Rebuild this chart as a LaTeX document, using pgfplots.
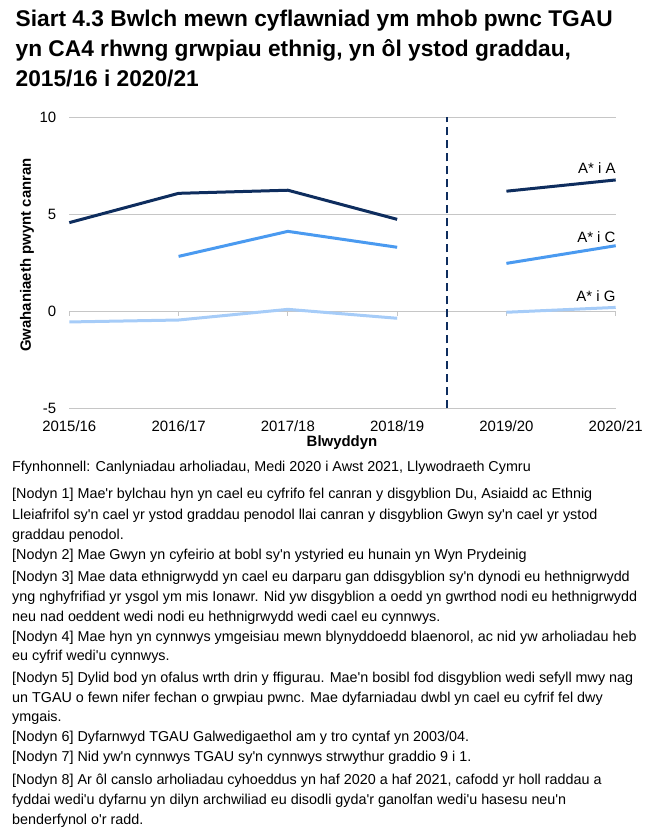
\documentclass[border=0pt]{standalone}
\usepackage{fontspec}
\setmainfont{Liberation Sans}[Ligatures=TeXOff]
\usepackage{pgfplots}
\pgfplotsset{compat=1.18}

\definecolor{navy}{HTML}{0E2D5E}
\definecolor{midblue}{HTML}{4A9AF0}
\definecolor{lightblue}{HTML}{A6CCF8}
\definecolor{gridgray}{HTML}{C6C6C6}

\newcommand\note[2]{\node[anchor=base west,inner sep=0,font=\fontsize{14.4}{16}\selectfont] at (12bp,839bp-#1bp) {#2};}

\begin{document}
\begin{tikzpicture}[x=1bp,y=1bp]
\path[use as bounding box] (0,0) rectangle (668,839);

% titl
\begin{scope}[every node/.style={anchor=base west,inner sep=0,font=\bfseries\fontsize{22.8}{26}\selectfont}]
\node at (15.5,839-26.5) {Siart 4.3 Bwlch mewn cyflawniad ym mhob pwnc TGAU};
\node at (15.5,839-57) {yn CA4 rhwng grwpiau ethnig, yn ôl ystod graddau,};
\node at (15.5,839-87) {2015/16 i 2020/21};
\end{scope}

\begin{axis}[
  at={(69.3bp,430.7bp)}, anchor=south west,
  scale only axis, width=546.4bp, height=291bp,
  xmin=0, xmax=5, ymin=-5, ymax=10,
  axis line style={draw=none},
  major tick length=0,
  xtick={0,...,5},
  xticklabels={2015/16,2016/17,2017/18,2018/19,2019/20,2020/21},
  ytick={-5,0,5,10},
  yticklabels={-5,0,5,10},
  ymajorgrids,
  grid style={gridgray, line width=1bp},
  tick label style={font=\fontsize{15}{17}\selectfont},
  yticklabel style={xshift=-9.5bp},
  xticklabel style={yshift=-8.5bp},
  unbounded coords=jump,
  clip=false,
]
% tick marks on the zero line
\pgfplotsinvokeforeach{0,...,5}{
  \draw[gridgray, line width=1bp] (axis cs:#1,0) -- ([yshift=-5bp]axis cs:#1,0);
}

% A* i A
\addplot[navy, line width=3bp] coordinates {
  (0,4.57) (1,6.08) (2,6.24) (3,4.74) (3.5,nan) (4,6.19) (5,6.77)};
% A* i C
\addplot[midblue, line width=3bp] coordinates {
  (1,2.83) (2,4.12) (3,3.30) (3.5,nan) (4,2.47) (5,3.38)};
% A* i G
\addplot[lightblue, line width=3bp] coordinates {
  (0,-0.55) (1,-0.45) (2,0.10) (3,-0.36) (3.5,nan) (4,-0.05) (5,0.20)};

% dashed break 2018/19 -> 2019/20
\addplot[navy, line width=2bp, dash pattern=on 8bp off 5bp] coordinates {(3.46,-5) (3.46,10)};

\begin{scope}[every node/.style={anchor=base east,inner sep=0,font=\fontsize{15}{17}\selectfont}]
\node at (axis cs:5,7.11) {A* i A};
\node at (axis cs:5,3.54) {A* i C};
\node at (axis cs:5,0.50) {A* i G};
\end{scope}
\end{axis}

\node[rotate=90, inner sep=0, font=\bfseries\fontsize{15}{17}\selectfont] at (27,839-255) {Gwahaniaeth pwynt canran};
\node[anchor=base, inner sep=0, font=\bfseries\fontsize{15}{17}\selectfont] at (342,839-446.5) {Blwyddyn};

\note{471.5}{Ffynhonnell: Canlyniadau arholiadau, Medi 2020 i Awst 2021, Llywodraeth Cymru}
\note{499}{[Nodyn 1] Mae'r bylchau hyn yn cael eu cyfrifo fel canran y disgyblion Du, Asiaidd ac Ethnig}
\note{519.5}{Lleiafrifol sy'n cael yr ystod graddau penodol llai canran y disgyblion Gwyn sy'n cael yr ystod}
\note{540}{graddau penodol.}
\note{560}{[Nodyn 2] Mae Gwyn yn cyfeirio at bobl sy'n ystyried eu hunain yn Wyn Prydeinig}
\note{581.7}{[Nodyn 3] Mae data ethnigrwydd yn cael eu darparu gan ddisgyblion sy'n dynodi eu hethnigrwydd}
\note{601.7}{yng nghyfrifiad yr ysgol ym mis Ionawr. Nid yw disgyblion a oedd yn gwrthod nodi eu hethnigrwydd}
\note{621.7}{neu nad oeddent wedi nodi eu hethnigrwydd wedi cael eu cynnwys.}
\note{641.7}{[Nodyn 4] Mae hyn yn cynnwys ymgeisiau mewn blynyddoedd blaenorol, ac nid yw arholiadau heb}
\note{661}{eu cyfrif wedi'u cynnwys.}
\note{682.7}{[Nodyn 5] Dylid bod yn ofalus wrth drin y ffigurau. Mae'n bosibl fod disgyblion wedi sefyll mwy nag}
\note{702.7}{un TGAU o fewn nifer fechan o grwpiau pwnc. Mae dyfarniadau dwbl yn cael eu cyfrif fel dwy}
\note{722}{ymgais.}
\note{741.7}{[Nodyn 6] Dyfarnwyd TGAU Galwedigaethol am y tro cyntaf yn 2003/04.}
\note{761.7}{[Nodyn 7] Nid yw'n cynnwys TGAU sy'n cynnwys strwythur graddio 9 i 1.}
\note{785}{[Nodyn 8] Ar ôl canslo arholiadau cyhoeddus yn haf 2020 a haf 2021, cafodd yr holl raddau a}
\note{805}{fyddai wedi'u dyfarnu yn dilyn archwiliad eu disodli gyda'r ganolfan wedi'u hasesu neu'n}
\note{825}{benderfynol o'r radd.}
\end{tikzpicture}
\end{document}
